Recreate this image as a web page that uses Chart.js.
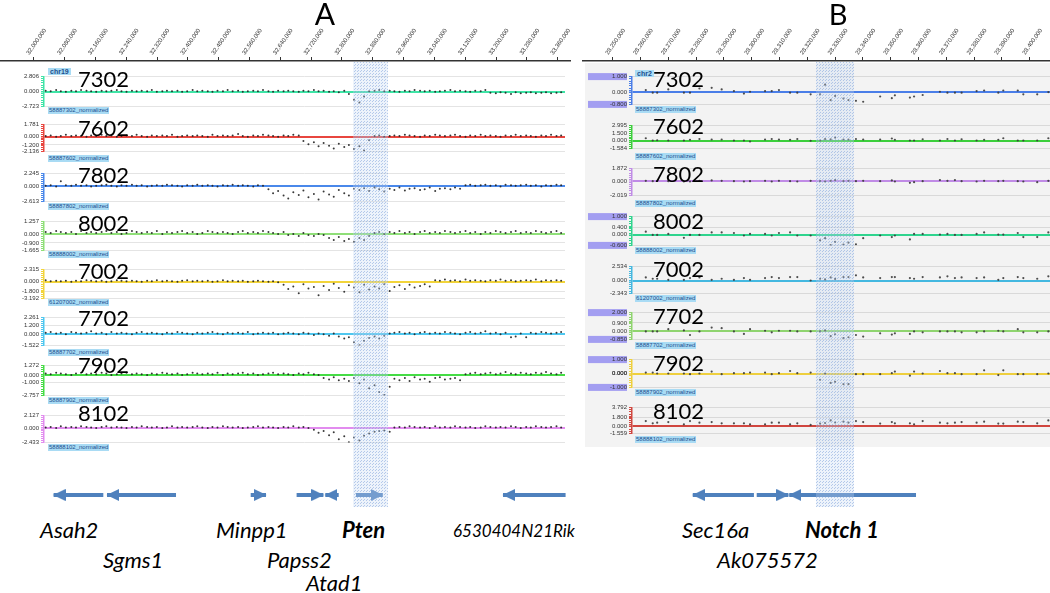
<!DOCTYPE html>
<html>
<head>
<meta charset="utf-8">
<script src="https://cdn.jsdelivr.net/npm/chart.js@4.4.1/dist/chart.umd.min.js"></script>
<style>
html,body{margin:0;padding:0;background:#fff;}
body{position:relative;width:1050px;height:593px;overflow:hidden;font-family:Lato,"Open Sans",sans-serif;}
canvas{position:absolute;}
.txt{position:absolute;white-space:nowrap;line-height:1;color:#000;z-index:6;}
.tag{position:absolute;white-space:nowrap;font-family:"Liberation Sans",Arial,sans-serif;font-size:6px;line-height:7px;height:7px;padding:0 1px;background:#a9dbf4;color:#1d4f8e;z-index:6;}
#bgB{position:absolute;left:585px;top:63px;width:465px;height:384px;background:#f3f3f3;z-index:0;}
</style>
</head>
<body>
<div id="bgB"></div>
<script>
// ================= DATA =================
const sampleIds = ['7302','7602','7802','8002','7002','7702','7902','8102'];
const trackNames = ['58887302_normalized','58887602_normalized','58887802_normalized','58888002_normalized',
                    '61207002_normalized','58887702_normalized','58887902_normalized','58888102_normalized'];
const chromA = 'chr19';
const chromB = 'chr2';

const rulerTicksA = [32000000,32080000,32160000,32240000,32320000,32400000,32480000,32560000,32640000,
                     32720000,32800000,32880000,32960000,33040000,33120000,33200000,33280000,33360000];
const rulerTicksB = [28250000,28260000,28270000,28280000,28290000,28300000,28310000,28320000,
                     28330000,28340000,28350000,28360000,28370000,28380000,28390000,28400000];

const highlightA = [32820600, 32910600];
const highlightB = [28323100, 28336800];

// y-axis tick values of each track
const yTicksA = [[2.806,0,-2.723],[1.781,0,-1.2,-2.136],[2.245,0,-2.613],[1.257,0,-0.9,-1.665],
                 [2.315,0,-1.8,-3.192],[2.261,1.2,0,-1.522],[1.272,0,-1.0,-2.757],[2.127,0,-2.433]];
const yTicksB = [[1.0,0,-0.8],[2.995,1.5,0,-1.584],[1.872,0,-2.019],[1.0,0.4,0,-0.6],
                 [2.534,0,-2.343],[2.0,0.9,0,-0.85],[1.0,0,-1.0],[3.792,1.8,0,-1.559]];
const boxedTicksB = [[1.0,-0.8],[],[],[1.0,-0.6],[],[2.0,-0.85],[1.0,-1.0],[]];

// probe positions (kb)
const probesA_kb = [32030,32043,32057,32069,32082,32096,32108,32121,32135,32147,
  32160,32174,32186,32199,32213,32225,32238,32252,32264,32277,
  32291,32303,32316,32330,32342,32355,32369,32381,32394,32408,
  32420,32433,32447,32459,32472,32486,32498,32511,32525,32537,
  32550,32564,32576,32589,32603,32615,32628,32642,32654,32667,
  32681,32693,32706,32720,32732,32745,32759,32771,32784,32798,
  32810,32823,32837,32849,32862,32876,32888,32901,32915,32927,
  32940,32954,32966,32979,32993,33005,33018,33032,33044,33057,
  33071,33083,33096,33110,33122,33135,33149,33161,33174,33188,
  33200,33213,33227,33239,33252,33266,33278,33291,33305,33317,
  33330,33344,33356];

const a7302 = [0.2,0.1,0.3,0.1,0.0,0.2,0.1,0.3,0.2,0.1, 0.0,0.2,0.1,0.2,0.3,0.1,0.0,0.2,0.1,0.2,
  0.1,0.3,0.0,0.1,0.2,0.1,0.2,0.0,0.1,0.3, 0.1,0.2,0.1,0.0,0.2,0.1,0.3,0.1,0.2,0.0,
  0.1,0.2,0.1,0.3,0.1,0.0,0.2,0.1,0.2,0.1, 0.0,0.2,0.1,0.3,0.1,0.2,0.0,0.1,-0.1,0.2,
  -0.4,-1.5,-2.0,-0.9,0.1,0.2,0.3,0.1,0.2,0.1, 0.0,0.2,0.1,0.3,0.2,0.1,0.2,0.0,0.1,0.2,
  0.3,0.1,0.2,0.1,0.0,0.2,0.1,0.3,-0.2,-0.3, -0.1,-0.2,-0.4,-0.1,-0.3,-0.2,-0.1,-0.3,-0.2,-0.1,
  -0.3,-0.2,-0.1];
const a7602 = [0.1,0.2,0.0,0.1,0.3,0.1,0.2,0.1,0.0,0.2, 0.1,0.3,0.1,0.2,0.0,0.1,0.2,0.1,0.3,0.1,
  0.0,0.2,0.1,0.2,0.1,0.3,0.0,0.1,0.2,0.1, 0.2,0.1,0.0,0.3,0.1,0.2,0.1,0.2,0.4,0.1,
  0.0,0.2,0.1,0.3,0.2,0.1,0.0,0.2,0.1,0.3, 0.2,-0.6,-1.1,-0.8,-1.4,-0.9,-1.3,-1.7,-1.0,-1.5,
  -1.2,-1.8,-1.4,-2.0,-0.5,0.1,0.2,0.0,0.1,0.2, 0.1,0.3,0.2,0.1,0.0,0.2,0.1,0.3,0.2,0.1,
  0.2,0.3,0.1,0.0,0.2,0.1,0.3,0.1,0.2,0.1, 0.0,0.2,0.1,0.3,0.1,0.2,0.1,0.0,0.2,0.1,
  0.3,0.1,0.2];
const a7802 = [0.1,0.2,0.0,0.9,0.2,0.1,0.3,0.1,0.2,0.0, 0.1,0.2,0.3,0.1,0.0,0.2,0.1,0.3,0.1,0.2,
  0.0,0.1,0.2,0.1,0.3,0.2,0.1,0.0,0.2,0.1, 0.3,0.1,0.2,0.1,0.0,0.2,0.1,0.3,0.1,0.2,
  0.1,0.0,0.2,0.1,-0.5,-1.2,-0.8,-1.6,-2.1,-1.0, -1.5,-0.7,-1.9,-1.3,-2.3,-0.9,-1.4,-1.8,-0.6,-1.2,
  -1.6,-0.4,-0.6,-0.3,-0.8,-0.2,-0.5,-0.9,-0.4,-0.6, -0.2,-0.7,-0.4,-0.3,-0.6,-0.5,-0.2,-0.8,-0.4,-0.3,
  -0.5,-0.2,-0.4,0.2,0.3,0.1,0.2,0.3,0.1,0.2, 0.0,0.3,0.2,0.1,0.2,0.3,0.1,0.2,0.0,0.2,
  0.1,0.3,0.2];
const a8002 = [0.2,0.1,0.3,0.2,0.1,0.2,0.0,0.3,0.1,0.2, 0.1,0.2,0.3,0.1,0.2,0.0,0.1,0.3,0.2,0.1,
  0.2,0.1,0.3,0.0,0.2,0.1,0.2,0.3,0.1,0.2, 0.0,0.1,0.3,0.2,0.1,0.2,0.1,0.0,0.2,0.3,
  0.1,0.2,0.1,0.3,0.2,0.1,0.0,0.2,-0.1,0.0, -0.2,0.1,-0.1,-0.2,0.0,-0.1,-0.4,-0.6,-0.3,-0.7,
  -0.5,-0.8,-0.4,-0.6,-0.2,0.1,0.2,0.0,0.2,0.1, 0.3,0.1,0.2,0.0,0.2,0.3,0.1,0.2,0.1,0.3,
  0.2,0.1,0.2,0.3,0.1,0.2,0.0,0.2,0.1,0.3, 0.2,0.1,0.2,0.3,0.1,0.2,0.1,0.3,0.2,0.1,
  0.2,0.3,0.1];
const a7002 = [0.3,0.1,0.2,0.1,0.2,0.0,0.2,0.1,0.3,0.2, 0.1,0.2,0.0,0.1,0.3,0.2,0.1,0.2,0.1,0.0,
  0.2,0.1,0.3,0.1,0.2,0.1,0.0,0.2,0.3,0.1, 0.2,0.1,0.2,0.0,0.1,0.3,0.1,0.2,0.1,0.2,
  0.0,0.1,0.2,0.1,0.0,0.1,-0.1,-0.6,-1.4,-0.9, -2.2,-0.5,-1.3,-1.0,-2.6,-0.8,-1.6,-0.4,-1.2,-1.9,
  -0.7,-1.1,-2.0,-0.6,-1.5,-0.9,-1.3,-0.5,-1.8,-1.0, -0.7,-1.4,-0.6,-1.1,-0.8,-0.5,-0.9,0.3,0.2,0.4,
  0.2,0.3,0.1,0.4,0.2,0.3,0.2,0.1,0.3,0.2, 0.4,0.2,0.3,0.1,0.2,0.3,0.2,0.4,0.1,0.3,
  0.2,0.3,0.2];
const a7702 = [0.2,0.3,0.1,0.2,0.0,0.3,0.2,0.1,0.2,0.4, 0.1,0.2,0.0,0.3,0.1,0.2,0.1,0.0,0.2,0.3,
  0.1,0.2,0.1,0.0,0.2,0.1,0.3,0.2,0.1,0.0, 0.2,0.1,0.2,0.3,0.1,0.0,0.2,0.1,0.2,0.1,
  0.3,0.0,0.1,0.2,0.1,0.2,0.0,0.1,0.2,0.1, 0.0,0.2,0.1,-0.1,0.1,0.0,-0.2,0.1,-0.3,-0.6,
  -0.4,-1.1,-1.5,-0.9,-0.5,-0.3,-0.6,-0.2,0.1,0.2, 0.3,0.1,0.2,0.0,0.2,0.3,0.1,0.2,0.1,0.3,
  0.2,0.1,0.0,0.2,0.3,0.1,0.2,0.4,0.1,0.2, 0.0,0.2,-0.4,-0.3,0.1,-0.4,0.2,0.1,0.3,0.2,
  0.1,0.2,0.3];
const a7902 = [0.2,0.1,0.3,0.2,0.1,0.0,0.2,0.3,0.1,0.2, 0.1,0.3,0.2,0.0,0.1,0.2,0.3,0.1,0.2,0.1,
  0.0,0.2,0.1,0.3,0.2,0.1,0.2,0.0,0.1,0.3, 0.2,0.1,0.2,0.1,0.3,0.0,0.2,0.1,0.2,0.3,
  0.1,0.2,0.0,0.1,0.2,0.3,0.1,0.2,0.1,0.0, 0.2,0.1,0.3,0.1,0.0,-0.4,-0.6,-0.3,-0.7,-0.5,
  -0.8,-0.4,-1.1,-0.6,-1.8,-1.4,-2.3,-2.7,-1.6,-0.5, -0.7,-0.4,-0.8,-0.3,-0.6,-0.5,-0.9,-0.4,-0.3,-0.6,
  -0.5,-0.4,-0.7,0.1,0.2,0.3,0.1,0.2,0.3,0.1, 0.2,0.4,0.2,0.1,0.3,0.2,0.1,0.3,0.2,0.4,
  0.2,0.1,0.3];
const a8102 = [0.1,0.2,0.0,0.3,0.1,0.2,0.1,0.3,0.2,0.1, 0.0,0.2,0.3,0.1,0.2,0.1,0.0,0.2,0.1,0.3,
  0.2,0.1,0.2,0.0,0.1,0.3,0.1,0.2,0.1,0.2, 0.3,0.1,0.0,0.2,0.1,0.3,0.2,0.1,0.2,0.0,
  0.1,0.2,0.3,0.1,0.2,0.1,0.0,0.2,0.1,0.3, 0.1,0.2,0.0,-0.3,-0.8,-0.5,-1.2,-0.7,-1.9,-1.4,
  -2.4,-1.6,-2.1,-1.3,-0.9,-0.6,-0.5,-0.4,-0.6,0.1, 0.2,0.1,0.3,0.2,0.1,0.2,0.0,0.3,0.1,0.2,
  0.1,0.3,0.2,0.1,0.2,0.0,0.1,0.3,0.2,0.1, 0.2,0.1,0.3,0.2,0.0,0.2,0.1,0.3,0.2,0.1,
  0.2,0.3,0.1];

const probesB_kb = [28261.9,28264.4,28266.0,28270.0,28275.6,28277.8,28281.2,28285.6,28289.2,28293.6,
  28297.2,28299.4,28304.8,28307.2,28309.8,28313.8,28316.4,28321.2,28324.6,28326.4,
  28328.4,28330.0,28333.0,28334.8,28337.5,28340.1,28346.2,28350.4,28351.5,28356.9,
  28358.4,28361.5,28367.7,28370.4,28373.1,28375.5,28380.9,28383.6,28388.7,28390.5,
  28395.7,28397.7,28402.7,28406.7];

const b7302 = [0.13,-0.04,-0.04,0.17,-0.04,-0.04,0.23,0.27,0.17,0.06, -0.1,0.02,0.06,0.06,0.13,-0.04,-0.04,-0.15,-0.15,0.48,
  -0.52,-0.25,-0.42,-0.52,-0.57,-0.63,-0.29,-0.4,-0.21,-0.36, -0.29,-0.19,0.02,-0.04,-0.04,-0.04,0.06,0.1,-0.04,0.1,
  0.1,-0.15,-0.15,0.0];
const b7602 = [0.45,0.0,0.05,0.0,0.0,0.15,0.3,0.2,0.2,0.0, 0.0,-0.2,0.2,0.3,0.2,0.15,0.3,-0.05,0.0,0.3,
  0.25,0.6,0.2,0.2,0.3,0.2,0.2,0.4,0.15,0.0, 0.0,0.25,0.0,0.3,0.0,0.25,0.0,0.15,0.15,0.45,
  0.0,0.0,0.0,0.45];
const b7802 = [0.1,0.05,0.1,0.05,0.0,0.0,0.1,0.15,0.1,0.05, 0.0,0.05,0.1,0.0,0.1,0.05,0.0,0.1,0.05,0.0,
  0.1,0.2,0.05,0.1,0.05,0.1,0.05,0.15,0.0,-0.2, -0.1,0.05,0.2,0.1,0.2,0.05,0.0,0.1,0.05,0.1,
  0.05,0.0,-0.1,0.1];
const b8002 = [0.16,-0.02,-0.02,0.04,-0.18,-0.02,-0.02,0.12,0.12,0.09, -0.05,0.04,0.04,-0.05,0.09,0.12,-0.05,-0.05,-0.32,-0.2,
  -0.59,-0.4,-0.55,-0.45,-0.54,-0.2,-0.05,-0.14,-0.05,-0.27, 0.04,0.04,0.0,0.04,-0.02,-0.02,0.04,0.12,0.0,0.0,
  0.09,-0.14,-0.14,0.12];
const b7002 = [0.57,0.32,0.32,0.13,0.13,0.44,0.57,0.13,0.32,0.13, 0.44,0.13,0.44,0.63,0.44,0.63,0.63,0.0,0.32,0.2,
  0.57,0.3,0.63,0.63,0.95,0.57,0.44,0.63,0.63,0.44, 0.32,0.63,0.57,0.76,0.44,0.57,0.44,0.57,0.13,0.44,
  0.63,0.44,0.32,0.76];
const b7702 = [0.0,0.0,0.0,0.24,0.1,-0.38,0.0,0.41,0.34,0.0, -0.27,0.24,0.07,-0.1,0.07,0.07,0.0,0.0,0.0,0.1,
  -0.51,-0.3,-0.72,-0.62,-0.38,-0.55,-0.2,-0.34,-0.2,-0.27, 0.0,-0.1,0.0,0.0,0.0,-0.1,-0.1,0.0,0.07,0.0,
  0.24,-0.1,-0.1,0.0];
const b7902 = [0.07,0.07,0.0,0.0,0.0,-0.05,0.0,0.14,-0.05,0.02, 0.02,0.07,0.07,-0.05,0.02,0.18,0.02,0.07,-0.45,0.0,
  -0.68,-0.6,-0.77,-0.77,-0.05,-0.05,-0.05,0.02,0.14,-0.16, 0.14,0.0,0.18,0.02,0.02,-0.05,-0.05,0.23,-0.11,0.23,
  -0.05,-0.05,-0.05,0.0];
const b8102 = [1.0,0.53,0.67,0.8,0.33,1.0,0.67,0.8,0.53,0.53, 0.53,0.33,0.33,0.67,0.67,0.33,0.53,0.2,0.47,0.6,
  1.13,0.7,0.87,0.67,1.0,0.8,0.47,0.8,0.53,0.53, 0.33,1.0,0.67,0.53,0.67,0.8,0.67,0.87,0.47,0.47,
  0.87,0.8,0.53,1.13];

const seriesA = [a7302,a7602,a7802,a8002,a7002,a7702,a7902,a8102];
const seriesB = [b7302,b7602,b7802,b8002,b7002,b7702,b7902,b8102];

// genes: arrow from tail to tip (bp)
const genesA    = ['Asah2','Sgms1','Minpp1','Papss2','Atad1','Pten','6530404N21Rik'];
const geneTailA = [32178300,32365300,32557400,32675500,32783800,32828300,33367400];
const geneTipA  = [32050400,32187800,32596800,32744400,32749300,32897000,33206400];
const genesB    = ['Sec16a','Ak075572','Notch 1'];
const geneTailB = [28300800,28301800,28359100];
const geneTipB  = [28278800,28313200,28313500];

// ================= STYLE / LAYOUT =================
const colorsA = ['#3ee4a6','#e8463f','#4a88ea','#8fdf78','#f2d43a','#4fc7ef','#45dc45','#e28cef'];
const colorsB = ['#4a7ee8','#3ccf3c','#c08be6','#2fd48e','#44b8e0','#8fd46f','#eecf3e','#d0463f'];
const mapA = {px0:34, bp0:32000000, bpPerPx:2572.3};
const mapB = {px0:612.7, bp0:28250000, bpPerPx:359.7};
const bpAt = (m, px) => m.bp0 + (px - m.px0) * m.bpPerPx;

const trackTopA = [76,124,172.7,220.7,269,317.3,365,415];
const trackBotA = [106.7,151.7,201.7,250.7,298.7,346.7,395.7,443.3];
const tagYA     = [110.7,158.3,206.7,254.3,302.3,352,400,447.7];
const idYA      = [80,128.3,175.3,223.3,271.5,318.3,365.5,413.3];
const trackTopB = [75.7,125,168.3,215.7,265.7,312.3,359,406.7];
const trackBotB = [104.3,149.3,196.7,245.7,293.3,340,388.3,433.3];
const tagYB     = [109,156.7,203.3,250.7,298.3,345,392.3,439.3];
const idYB      = [80,126.5,174.5,222,270,316.5,364,411.5];

Chart.defaults.font.family = '"Liberation Sans", Arial, sans-serif';
Chart.defaults.animation = false;

function makeCanvas(left, top, w, h, z) {
  const c = document.createElement('canvas');
  c.width = w; c.height = h;
  c.style.left = left + 'px'; c.style.top = top + 'px';
  c.style.width = w + 'px'; c.style.height = h + 'px';
  c.style.zIndex = z;
  document.body.appendChild(c);
  return c;
}
const baseOpts = () => ({
  responsive:false, animation:false, events:[],
  layout:{padding:0, autoPadding:false},
  plugins:{legend:{display:false}, tooltip:{enabled:false}, title:{display:false}}
});

const tickBoxPlugin = {
  id:'tickBoxes',
  beforeDraw(chart, args, opts) {
    const vals = opts.values || [];
    if (!vals.length) return;
    const ys = chart.scales.y, ctx = chart.ctx;
    ctx.save(); ctx.fillStyle = '#a39ef1';
    vals.forEach(v => { const y = ys.getPixelForValue(v); ctx.fillRect(opts.x0, y - 3.5, opts.w, 7); });
    ctx.restore();
  }
};

function trackChart(o) {
  const pad = 5;
  const c = makeCanvas(o.left, o.top - pad, o.width, Math.round(o.bottom - o.top + 2 * pad), 2);
  const tks = o.ticks;
  const max = Math.max(...tks), min = Math.min(...tks);
  const minor = [];
  for (let i = 1; i < o.nMinor; i++) minor.push(min + (max - min) * i / o.nMinor);
  const isMajor = v => tks.some(t => Math.abs(t - v) < 1e-9);
  const opts = baseOpts();
  opts.layout.padding = {top:pad, bottom:pad, left:0, right:0};
  opts.plugins.tickBoxes = {values:o.boxed || [], x0:6, w:39};
  opts.scales = {
    x:{type:'linear', display:false, min:o.xMin, max:o.xMax},
    y:{type:'linear', min:min, max:max,
      afterFit: s => { s.width = o.axisW; },
      afterBuildTicks: s => { s.ticks = tks.concat(minor).sort((a,b)=>b-a).map(v=>({value:v})); },
      ticks:{autoSkip:false, font:{size:6}, color:'#333', padding:2,
        callback: v => isMajor(v) ? Number(v).toFixed(3) : ''},
      grid:{
        color: ctx => { const v = ctx.tick ? ctx.tick.value : null;
          if (v === 0) return o.color; return (v !== null && isMajor(v)) ? o.grid : 'rgba(0,0,0,0)'; },
        lineWidth: ctx => (ctx.tick && ctx.tick.value === 0) ? 2 : 1,
        tickColor:o.color, tickWidth:1, tickLength:3, drawTicks:true
      },
      border:{color:o.color, width:1.5}
    }
  };
  new Chart(c, {
    type:'scatter',
    data:{datasets:[{data:o.xs.map((x,i)=>({x:x, y:o.ys[i]})), pointRadius:o.r,
      pointBackgroundColor:o.pc, pointBorderWidth:0, showLine:false}]},
    options:opts,
    plugins:[tickBoxPlugin]
  });
}

function rulerChart(left, width, m, ticks) {
  const c = makeCanvas(left, 0, width, 64, 3);
  const opts = baseOpts();
  opts.scales = {
    x:{type:'linear', position:'top', min:bpAt(m, left), max:bpAt(m, left + width),
      afterFit: s => { s.height = 61; },
      afterBuildTicks: s => { s.ticks = ticks.map(v=>({value:v})); },
      ticks:{autoSkip:false, minRotation:55, maxRotation:55, font:{size:6}, color:'#333', padding:1,
        callback: v => Number(v).toLocaleString('en-US')},
      grid:{drawOnChartArea:false, tickLength:4, color:'#333', tickWidth:1},
      border:{color:'#333', width:1.5}
    },
    y:{display:false, min:0, max:1}
  };
  new Chart(c, {type:'scatter', data:{datasets:[{data:[]}]}, options:opts});
}

// dotted highlight pattern
const pc = document.createElement('canvas'); pc.width = 3; pc.height = 3;
const pg = pc.getContext('2d');
pg.fillStyle = 'rgba(200,219,243,0.32)'; pg.fillRect(0,0,3,3);
pg.fillStyle = 'rgba(110,150,215,0.45)'; pg.fillRect(0,0,1,1); pg.fillRect(1,2,1,1);
const shadePattern = pg.createPattern(pc, 'repeat');

function shadeChart(left, width, m, range) {
  const c = makeCanvas(left, 62, width, 445, 5);
  const opts = baseOpts();
  opts.scales = {
    x:{type:'linear', display:false, min:bpAt(m, left), max:bpAt(m, left + width)},
    y:{display:false, min:0, max:1}
  };
  new Chart(c, {type:'line', data:{datasets:[{data:[{x:range[0],y:1},{x:range[1],y:1}],
    fill:'start', backgroundColor:shadePattern, borderWidth:0, pointRadius:0}]}, options:opts});
}

// arrow head image (tip at image centre, pointing right)
const head = document.createElement('canvas'); head.width = 24; head.height = 12;
const hg = head.getContext('2d');
hg.fillStyle = '#4f81bd'; hg.beginPath(); hg.moveTo(0,0); hg.lineTo(12.5,6); hg.lineTo(0,12); hg.closePath(); hg.fill();

function geneChart(left, width, m, tails, tips) {
  const c = makeCanvas(left, 482, width, 26, 1);
  const opts = baseOpts();
  opts.scales = {
    x:{type:'linear', display:false, min:bpAt(m, left), max:bpAt(m, left + width)},
    y:{display:false, min:-1, max:1}
  };
  new Chart(c, {type:'line', data:{datasets:tails.map((t,i)=>({
      data:[{x:t,y:0},{x:tips[i],y:0}], borderColor:'#4f81bd', borderWidth:4, borderCapStyle:'butt',
      pointRadius:[0,6], pointStyle:head, rotation: tips[i] > t ? 0 : 180, fill:false, tension:0
    }))}, options:opts});
}

// ================= BUILD =================
rulerChart(0, 576, mapA, rulerTicksA);
rulerChart(582, 468, mapB, rulerTicksB);

const xsA = probesA_kb.map(k => k * 1000);
const xsB = probesB_kb.map(k => k * 1000);
for (let i = 0; i < 8; i++) {
  trackChart({left:0, width:565, axisW:44, top:trackTopA[i], bottom:trackBotA[i],
    xMin:bpAt(mapA, 44), xMax:bpAt(mapA, 565), xs:xsA, ys:seriesA[i], ticks:yTicksA[i],
    color:colorsA[i], grid:'#e4e4e4', pc:'rgba(35,35,35,0.9)', r:1, nMinor:14});
  trackChart({left:582, width:468, axisW:50, top:trackTopB[i], bottom:trackBotB[i],
    xMin:bpAt(mapB, 632), xMax:bpAt(mapB, 1050), xs:xsB, ys:seriesB[i], ticks:yTicksB[i],
    color:colorsB[i], grid:'#d9d9d9', pc:'rgba(60,60,60,0.9)', r:1.1, nMinor:12, boxed:boxedTicksB[i]});
}

geneChart(0, 600, mapA, geneTailA, geneTipA);
geneChart(582, 468, mapB, geneTailB, geneTipB);
shadeChart(0, 576, mapA, highlightA);
shadeChart(582, 468, mapB, highlightB);

// ================= TEXT =================
function text(str, x, yc, size, extra, center) {
  const d = document.createElement('div');
  d.className = 'txt'; d.textContent = str;
  d.style.fontSize = size + 'px';
  d.style.left = x + 'px';
  d.style.top = (yc - 0.527 * size) + 'px';
  if (center) d.style.transform = 'translateX(-50%)';
  if (extra) Object.assign(d.style, extra);
  document.body.appendChild(d);
}
function tag(str, x, yc, extra) {
  const d = document.createElement('div');
  d.className = 'tag'; d.textContent = str;
  d.style.left = x + 'px'; d.style.top = (yc - 3.5) + 'px';
  if (extra) Object.assign(d.style, extra);
  document.body.appendChild(d);
}
text('A', 325, 14, 30, null, true);
text('B', 838, 14, 29, null, true);
tag(chromA, 48, 71.5, {fontSize:'7px', fontWeight:'bold', padding:'0 2px'});
tag(chromB, 635, 73.5, {fontSize:'7px', fontWeight:'bold', padding:'0 2px'});
for (let i = 0; i < 8; i++) {
  text(sampleIds[i], 78, idYA[i], 22);
  text(sampleIds[i], 653, idYB[i], 22);
  tag(trackNames[i], 48, tagYA[i]);
  tag(trackNames[i], 635, tagYB[i]);
}
const geneTextA = [[40,531,22],[103,561,22],[216,531,22],[267,561,22],[306,584,22],[342,531,22],[453,531,17]];
genesA.forEach((g,i) => {
  const p = geneTextA[i];
  text(g, p[0], p[1], p[2], {fontStyle:'italic', fontWeight: g === 'Pten' ? 'bold' : 'normal'});
});
const geneTextB = [[682,531,22],[717,561,22],[805,531,22]];
genesB.forEach((g,i) => {
  const p = geneTextB[i];
  text(g, p[0], p[1], p[2], {fontStyle:'italic', fontWeight: g === 'Notch 1' ? 'bold' : 'normal'});
});
</script>
</body>
</html>
